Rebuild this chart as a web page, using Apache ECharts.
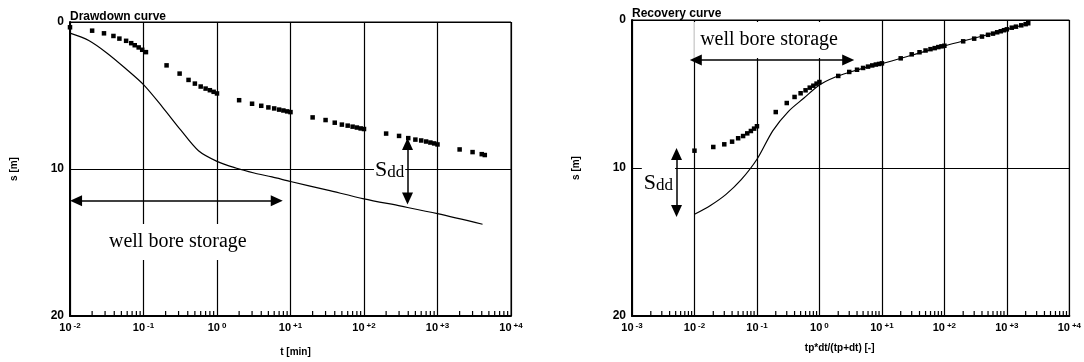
<!DOCTYPE html>
<html><head><meta charset="utf-8">
<script src="https://cdn.jsdelivr.net/npm/echarts@6/dist/echarts.min.js"></script>
<style>html,body{margin:0;padding:0;background:#fff}#c{width:1084px;height:362px}</style>
</head><body><div id="c"></div>
<script>
// ---- Drawdown chart data (t [min], s [m]) ----
const drawdownT = [0.01,0.02,0.029,0.039,0.047,0.058,0.068,0.076,0.086,0.096,0.108,
  0.206,0.31,0.41,0.5,0.6,0.7,0.8,0.9,1.0,
  2,3,4,5,6,7,8,9,10,
  20,30,40,50,60,70,80,90,100,
  200,300,400,500,600,700,800,900,1000,
  2000,3000,4000,4400];
const drawdownS = [0.36,0.59,0.77,0.95,1.13,1.28,1.44,1.58,1.73,1.89,2.05,
  2.95,3.51,3.94,4.19,4.39,4.53,4.64,4.75,4.86,
  5.32,5.56,5.70,5.81,5.88,5.96,6.02,6.08,6.13,
  6.49,6.67,6.85,6.98,7.05,7.12,7.18,7.24,7.28,
  7.59,7.75,7.90,8.00,8.06,8.13,8.20,8.26,8.33,
  8.67,8.85,8.99,9.05];
const drawdownCurveT = [0.01,0.018,0.032,0.056,0.1,0.18,0.32,0.56,1,1.8,3.2,5.6,10,32,100,320,1000,4100];
const drawdownCurveS = [0.76,1.26,2.12,3.13,4.26,5.77,7.34,8.76,9.48,9.93,10.27,10.54,10.85,11.44,12.03,12.53,13.04,13.76];

// ---- Recovery chart data (tp*dt/(tp+dt) [-], s [m]) ----
const recoveryX = [0.01,0.02,0.03,0.04,0.05,0.06,0.07,0.08,0.09,0.1,
  0.2,0.3,0.4,0.5,0.6,0.7,0.8,0.9,1,
  2,3,4,5,6,7,8,9,10,
  20,30,40,50,60,70,80,90,100,
  200,300,400,500,600,700,800,900,1000,
  1200,1400,1700,2000,2200];
const recoveryS = [8.83,8.58,8.40,8.22,7.99,7.84,7.66,7.50,7.34,7.18,
  6.22,5.61,5.20,4.95,4.75,4.57,4.44,4.30,4.19,
  3.78,3.51,3.36,3.24,3.15,3.07,3.01,2.97,2.93,
  2.59,2.32,2.18,2.06,1.97,1.90,1.83,1.78,1.74,
  1.44,1.26,1.12,1.00,0.92,0.83,0.76,0.69,0.63,
  0.52,0.45,0.36,0.28,0.22];
const recoveryCurveX = [0.01,0.018,0.032,0.056,0.1,0.18,0.32,0.56,1,1.8,3.2,5.6,10,32,100,320,1000,2200];
const recoveryCurveS = [13.13,12.53,11.78,10.79,9.41,7.47,6.17,5.29,4.39,3.85,3.5,3.2,2.95,2.35,1.75,1.2,0.65,0.22];

// ---- Axis ticks ----
const yTicks = [0, 10, 20];
const minorMultipliers = [2,3,4,5,6,7,8,9];
const leftDecades = [0.01,0.1,1,10,100,1000];
const rightDecades = [0.001,0.01,0.1,1,10,100,1000];

// ---- Annotations (data coordinates) ----
const leftStorageArrow = [[0.0121,12.16],[6.5,12.16]];
const leftSddArrow = [[391,8.3],[391,12.0]];
const rightStorageArrow = [[0.0105,2.7],[2.89,2.7]];
const rightSddArrow = [[0.00516,9.05],[0.00516,12.9]];

const zip = (a,b)=>a.map((v,i)=>[v,b[i]]);
const minorTicks = decs => { const r=[]; decs.forEach(d=>minorMultipliers.forEach(m=>r.push([d*m,20]))); return r; };

const sans = 'Liberation Sans, Arial, sans-serif';
const serif = 'Liberation Serif, Times New Roman, serif';

function expFmt(v){
  const e = Math.round(Math.log10(v));
  const s = e>0 ? '+'+e : String(e);
  return '{b|10}{e|'+s+'}';
}
function xAxis(idx,min,max,name,split,gap,pad){
  return {type:'log', logBase:10, gridIndex:idx, min:min, max:max, splitNumber:split,
    axisLine:{onZero:false, lineStyle:{color:'#000',width:2}},
    axisTick:{show:false}, minorTick:{show:false},
    splitLine:{show:true, lineStyle:{color:'#000',width:1.2}},
    axisLabel:{margin:6, formatter:expFmt, rich:{
      b:{fontFamily:sans,fontSize:11,fontWeight:'bold',color:'#000',lineHeight:13,verticalAlign:'top'},
      e:{fontFamily:sans,fontSize:8,fontWeight:'bold',color:'#000',lineHeight:9,verticalAlign:'top',padding:[0,0,0,2]}}},
    name:name, nameLocation:'middle', nameGap:gap,
    nameTextStyle:{fontFamily:sans,fontSize:10,fontWeight:'bold',color:'#000',padding:pad}};
}
function yAxis(idx){
  return {type:'value', gridIndex:idx, inverse:true, min:yTicks[0], max:yTicks[2], interval:yTicks[1]-yTicks[0],
    axisLine:{onZero:false, lineStyle:{color:'#000',width:2}},
    axisTick:{show:false},
    splitLine:{show:true, lineStyle:{color:'#000',width:1}},
    axisLabel:{margin:6, fontFamily:sans, fontSize:12, fontWeight:'bold', color:'#000'},
    name:'s [m]', nameLocation:'middle', nameGap:51, nameRotate:90,
    nameTextStyle:{fontFamily:sans,fontSize:10,fontWeight:'bold',color:'#000'}};
}
function arrowLine(idx, seg){
  return {type:'line', xAxisIndex:idx, yAxisIndex:idx, data:[], z:6, silent:true,
    markLine:{silent:true, symbol:['triangle','triangle'], symbolSize:[11,12], animation:false,
      label:{show:false}, lineStyle:{color:'#000',width:1.5,type:'solid',opacity:1},
      data: seg.map(s=>[{coord:s[0]},{coord:s[1]}])}};
}
function noteSeries(idx, items){
  return {type:'scatter', xAxisIndex:idx, yAxisIndex:idx, z:4, silent:true, symbolSize:0,
    itemStyle:{opacity:1},
    data: items.map(it=>({value:[it.x,it.y], label:Object.assign({show:true, position:'inside', formatter:it.text,
      backgroundColor:'#fff', color:'#000', opacity:1}, it.label)}))};
}
const sddRich = {
  S:{fontFamily:serif,fontSize:22,color:'#000',lineHeight:24,verticalAlign:'bottom'},
  d:{fontFamily:serif,fontSize:17,color:'#000',lineHeight:14,verticalAlign:'bottom'}
};

const option = {
  animation:false,
  backgroundColor:'#fff',
  title:[
    {text:'Drawdown curve', left:70, top:11, padding:0, textStyle:{fontFamily:sans,fontSize:12,fontWeight:'bold',color:'#000'}},
    {text:'Recovery curve', left:632, top:8, padding:0, textStyle:{fontFamily:sans,fontSize:12,fontWeight:'bold',color:'#000'}}
  ],
  grid:[
    {left:70, top:22, width:441, height:296, show:true, borderColor:'#000', borderWidth:1},
    {left:632, top:20, width:439, height:296, show:true, borderColor:'#000', borderWidth:1}
  ],
  xAxis:[ xAxis(0,0.01,10000,'t [min]',6,31,[0,0,0,10]), xAxis(1,0.001,10000,'tp*dt/(tp+dt) [-]',7,27,[0,22,0,0]) ],
  yAxis:[ yAxis(0), yAxis(1) ],
  series:[
    {type:'line', xAxisIndex:0, yAxisIndex:0, data:zip(drawdownCurveT,drawdownCurveS), smooth:0.3, symbol:'none', z:3,
      lineStyle:{color:'#000',width:1.2}},
    {type:'scatter', xAxisIndex:0, yAxisIndex:0, data:zip(drawdownT,drawdownS), symbol:'rect', symbolSize:4.5, z:3,
      itemStyle:{color:'#000',opacity:1}},
    {type:'line', xAxisIndex:1, yAxisIndex:1, data:zip(recoveryCurveX,recoveryCurveS), smooth:0.3, symbol:'none', z:3,
      lineStyle:{color:'#000',width:1.2}},
    {type:'scatter', xAxisIndex:1, yAxisIndex:1, data:zip(recoveryX,recoveryS), symbol:'rect', symbolSize:4.5, z:3,
      itemStyle:{color:'#000',opacity:1}},
    {type:'scatter', xAxisIndex:0, yAxisIndex:0, data:minorTicks(leftDecades), symbol:'rect', symbolSize:[1.2,5], symbolOffset:[0,-2.5],
      clip:false, silent:true, itemStyle:{color:'#000',opacity:1}, z:3},
    {type:'scatter', xAxisIndex:1, yAxisIndex:1, data:minorTicks(rightDecades), symbol:'rect', symbolSize:[1.2,5], symbolOffset:[0,-2.5],
      clip:false, silent:true, itemStyle:{color:'#000',opacity:1}, z:3},
    noteSeries(0,[
      {x:0.293, y:14.97, text:'well bore storage', label:{fontFamily:serif,fontSize:20,lineHeight:22,padding:[4,6,10,6]}},
      {x:223, y:10.0, text:'{S|S}{d|dd}', label:{rich:sddRich, padding:[2,1,2,1]}}
    ]),
    noteSeries(1,[
      {x:0.162, y:1.35, text:'well bore storage', label:{fontFamily:serif,fontSize:20,lineHeight:22,padding:[4,8,10,6]}},
      {x:0.00265, y:10.88, text:'{S|S}{d|dd}', label:{rich:sddRich, padding:[3,2,1,2]}}
    ]),
    arrowLine(0,[leftStorageArrow,leftSddArrow]),
    arrowLine(1,[rightStorageArrow,rightSddArrow])
  ]
};
const chart = echarts.init(document.getElementById('c'), null, {renderer:'canvas'});
chart.setOption(option);
</script></body></html>
